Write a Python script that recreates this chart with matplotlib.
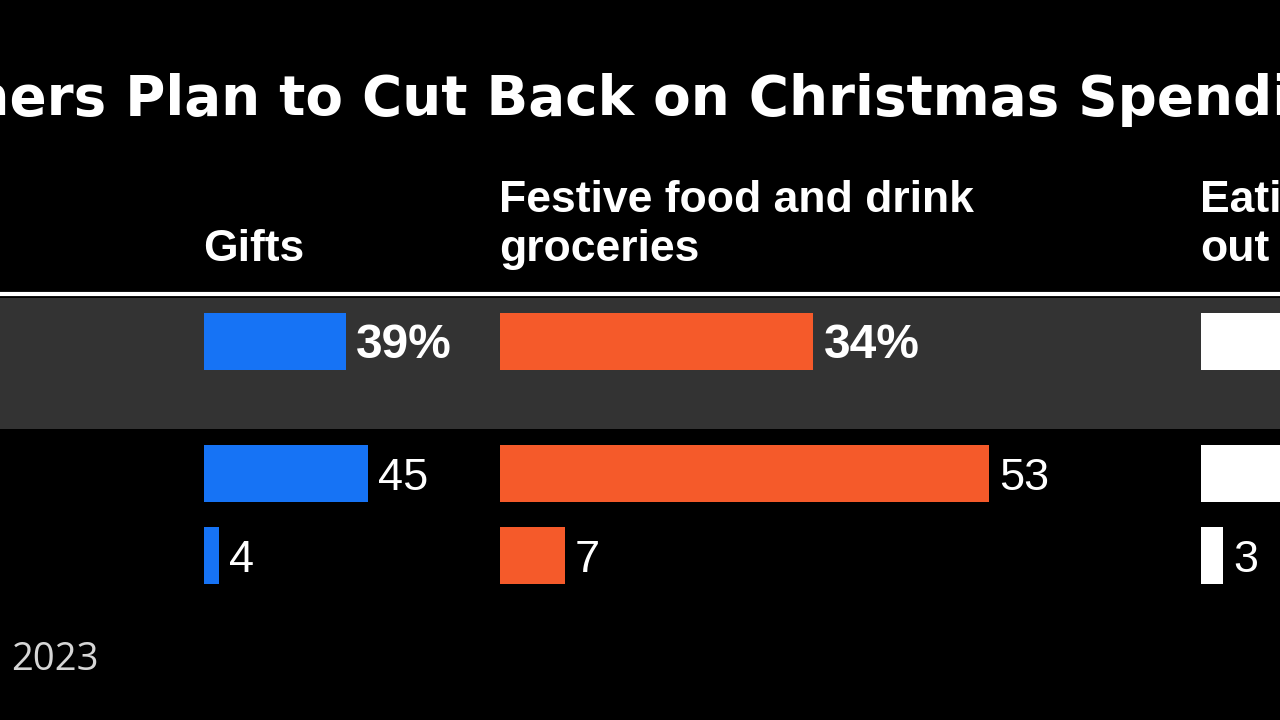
import matplotlib
matplotlib.use("Agg")
import matplotlib.pyplot as plt
from matplotlib.patches import Rectangle
from matplotlib.lines import Line2D

# ---------------- data ----------------
title = "Consumers Plan to Cut Back on Christmas Spending"
title_hidden_prefix = "Consum"                       # part cropped off the left edge
title_visible_span = "ers Plan to Cut Back on Christmas Spend"

header_lines = [["Gifts"], ["Festive food and drink", "groceries"], ["Eating", "out"]]
groups = ["All adults", "Group 2", "Group 3"]
gifts = [39, 45, 4]
festive = [34, 53, 7]
eating_out = [30, 42, 3]        # first two values are cut off in the reference (estimated)
footer = "2023"

# ---------------- style / layout ----------------
W, H = 1280, 720
BG = "#000000"
BAND = "#333333"
colors = ["#1673F5", "#F55A2A", "#FFFFFF"]
panel_x0 = [204, 500, 1201]          # px
panel_x1 = [480, 1180, 1700]         # px
px_per_unit = [3.65, 9.22, 7.3]
row_center = [341, 473.5, 555.5]     # px from top
bar_h = 57
ax_top, ax_bot = 290, 600
HFONT = ["Liberation Sans", "DejaVu Sans"]

fig = plt.figure(figsize=(W / 100, H / 100), dpi=100, facecolor=BG)

def fy(y):
    return 1 - y / H

# highlight band + rule
fig.add_artist(Rectangle((0, fy(429)), 1, (429 - 298) / H, transform=fig.transFigure,
                         facecolor=BAND, edgecolor="none", zorder=-1))
fig.add_artist(Line2D([0, 1], [fy(293.5)] * 2, transform=fig.transFigure,
                      color="white", lw=3.0, zorder=2))

series = [gifts, festive, eating_out]
for i, vals in enumerate(series):
    x0, x1 = panel_x0[i], panel_x1[i]
    ax = fig.add_axes([x0 / W, fy(ax_bot), (x1 - x0) / W, (ax_bot - ax_top) / H])
    ax.set_xlim(0, (x1 - x0) / px_per_unit[i])
    ax.set_ylim(ax_bot, ax_top)
    ax.axis("off")
    ax.patch.set_visible(False)
    ax.barh(row_center, vals, height=bar_h, color=colors[i], edgecolor="none")
    for r, v in enumerate(vals):
        label = f"{v}%" if r == 0 else f"{v}"
        ax.annotate(label, (v, row_center[r]), xytext=(7.2, 0), textcoords="offset points",
                    va="center_baseline", ha="left", color="white",
                    fontsize=34.5 if r == 0 else 32.5,
                    family=HFONT, fontweight="bold" if r == 0 else "normal",
                    annotation_clip=False, clip_on=False)
    # headers
    lines = header_lines[i]
    baselines = [261] if len(lines) == 1 else [212, 261]
    for ln, b in zip(lines, baselines):
        fig.text((x0 - 1) / W, fy(b), ln, color="white", fontsize=32, fontweight="bold",
                 family=HFONT, va="baseline", ha="left")

# title, fitted so the visible span matches the crop
renderer = fig.canvas.get_renderer()
kw = dict(fontweight="bold", family=["DejaVu Sans"], color="white")
MEAS = 40
t = fig.text(0, 0, title_visible_span, fontsize=MEAS, **kw)
w_meas = t.get_window_extent(renderer).width
t.remove()
fs = MEAS * (1273 - 12) / w_meas
tp = fig.text(0, 0, title_hidden_prefix, fontsize=fs, **kw)
wp = tp.get_window_extent(renderer).width
tp.remove()
fig.text((12 - wp - 2) / W, fy(115), title, fontsize=fs, va="baseline", ha="left", **kw)

# footer
fig.text(11 / W, fy(670), footer, color="#D6D6D6", fontsize=27.5,
         family=["Open Sans", "DejaVu Sans"], va="baseline", ha="left")

fig.savefig("out.png", dpi=100, facecolor=BG)
